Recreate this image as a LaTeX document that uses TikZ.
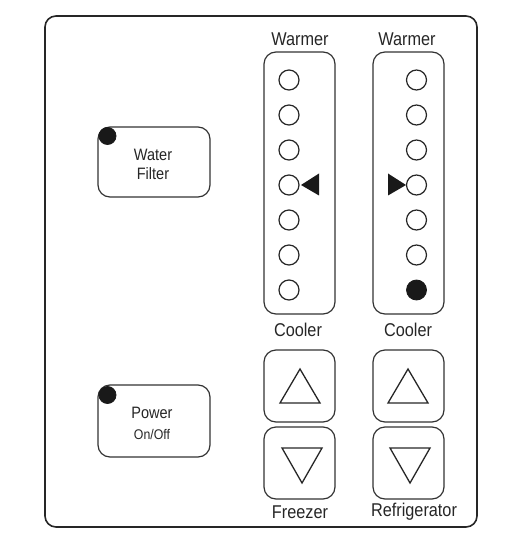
\documentclass[tikz,border=0pt]{standalone}
\usepackage{fontspec}
\setmainfont[FakeStretch=0.88]{Liberation Sans}
\begin{document}
\begin{tikzpicture}[x=1pt,y=-1pt,
  panel/.style={draw=black!85,line width=1.6pt,rounded corners=11pt},
  btn/.style={draw=black!80,line width=1.2pt,rounded corners=12pt},
  led/.style={draw=black!85,line width=1.2pt},
  ledon/.style={fill=black!90,draw=black!90,line width=0.8pt},
  tri/.style={draw=black!85,line width=1.3pt,line join=miter},
  pointer/.style={fill=black!90},
  lbl/.style={inner sep=0pt,font=\fontsize{18.5}{20}\selectfont,text=black!85},
  blbl/.style={inner sep=0pt,font=\fontsize{16.5}{18}\selectfont,text=black!85},
  slbl/.style={inner sep=0pt,font=\fontsize{14}{16}\selectfont,text=black!85}]
\useasboundingbox (0,0) rectangle (516,553);
% outer panel
\draw[panel] (45,16) rectangle (477,527);
% left buttons
\draw[btn] (98,127) rectangle (210,197);
\fill[ledon] (107.5,136) circle (8.5);
\node[blbl] (wf1) at (153,155) {Water};
\node[blbl] (wf2) at (153,174) {Filter};
\draw[btn] (98,385) rectangle (210,457);
\fill[ledon] (107.5,395) circle (8.5);
\node[blbl] (pw1) at (152,413) {Power};
\node[slbl] (pw2) at (152,434) {On/Off};
% column boxes
\draw[btn] (264,52) rectangle (335,314);
\draw[btn] (373,52) rectangle (444,314);
\node[lbl] (w1) at (300,39) {Warmer};
\node[lbl] (w2) at (407,39) {Warmer};
\node[lbl] (c1) at (298,330) {Cooler};
\node[lbl] (c2) at (408,330) {Cooler};
% LEDs
\foreach \i in {0,...,6}{
  \draw[led] (289,80+35*\i) circle (10);
}
\foreach \i in {0,...,5}{
  \draw[led] (416.5,80+35*\i) circle (10);
}
\fill[ledon] (416.5,290) circle (10);
% markers
\fill[pointer] (301,185) -- (319,173.5) -- (319,195.5) -- cycle;
\fill[pointer] (406,185) -- (388,173.5) -- (388,195.5) -- cycle;
% up/down buttons
\draw[btn] (264,350) rectangle (335,422);
\draw[btn] (373,350) rectangle (444,422);
\draw[btn] (264,427) rectangle (335,499);
\draw[btn] (373,427) rectangle (444,499);
\draw[tri] (300,369) -- (320,403) -- (280,403) -- cycle;
\draw[tri] (408,369) -- (428,403) -- (388,403) -- cycle;
\draw[tri] (282,448) -- (322,448) -- (302,483) -- cycle;
\draw[tri] (390,448) -- (430,448) -- (410,483) -- cycle;
\node[lbl] (fz) at (300,512) {Freezer};
\node[lbl] (rf) at (414,512) {Refrigerator};
\end{tikzpicture}
\end{document}
